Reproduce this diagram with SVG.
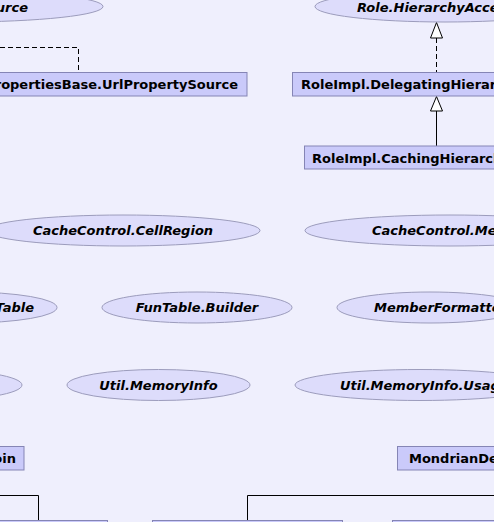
<svg xmlns="http://www.w3.org/2000/svg" width="494" height="522" viewBox="0 0 494 522">
<style>
.bg{fill:#efeffd}
.el{fill:#dddcfb;stroke:#9c9cbc;stroke-width:1}
.bx{fill:#cacafa;stroke:#8585b5;stroke-width:1}
.ti{font-family:"DejaVu Sans",sans-serif;font-size:13px;font-weight:bold;font-style:italic;fill:#000}
.tb{font-family:"DejaVu Sans",sans-serif;font-size:13px;font-weight:bold;fill:#000}
.ln{fill:none;stroke:#000;stroke-width:1}
.dl{fill:none;stroke:#000;stroke-width:1;stroke-dasharray:5,3}
.ah{fill:#fff;stroke:#000;stroke-width:1}
</style>
<rect class="bg" x="0" y="0" width="494" height="522"/>
<g id="connectors">
<path class="dl" d="M0,47.5 H78.5 V72"/>
<path class="dl" d="M436.5,38 V72"/>
<polygon class="ah" points="436.5,22.5 430.5,38 442.5,38"/>
<path class="ln" d="M436.5,111 V146"/>
<polygon class="ah" points="436.5,96.5 430.5,111 442.5,111"/>
<path class="ln" d="M0,495.5 H38.5 V520"/>
<path class="ln" d="M494,495.5 H247.5 V520"/>
</g>
<g id="n_propertysource"><ellipse class="el" cx="-40" cy="6.5" rx="143" ry="15.5"/><text class="ti" x="28" y="12" text-anchor="end">PropertySource</text></g>
<g id="n_urlpropertysource"><rect class="bx" x="-10" y="72.5" width="257" height="23.5"/><text class="tb" x="238" y="89" text-anchor="end">PropertiesBase.UrlPropertySource</text></g>
<g id="n_hierarchyaccess"><ellipse class="el" cx="445" cy="6.5" rx="130" ry="15.5"/><text class="ti" x="357" y="12">Role.HierarchyAccess</text></g>
<g id="n_delegating"><rect class="bx" x="292.5" y="72.5" width="260" height="23.5"/><text class="tb" x="301" y="89">RoleImpl.DelegatingHierarchyAccess</text></g>
<g id="n_caching"><rect class="bx" x="304.5" y="146" width="260" height="23"/><text class="tb" x="312" y="162.5">RoleImpl.CachingHierarchyManager</text></g>
<g id="n_cellregion"><ellipse class="el" cx="123" cy="230.5" rx="137" ry="15.5"/><text class="ti" x="123" y="235" text-anchor="middle">CacheControl.CellRegion</text></g>
<g id="n_memberregion"><ellipse class="el" cx="450" cy="230.5" rx="145" ry="15.5"/><text class="ti" x="372" y="235">CacheControl.MemberRegion</text></g>
<g id="n_funtable"><ellipse class="el" cx="-33" cy="307.5" rx="90" ry="15.5"/><text class="ti" x="34" y="312" text-anchor="end">FunTable</text></g>
<g id="n_funtablebuilder"><ellipse class="el" cx="197" cy="307.5" rx="95" ry="15.5"/><text class="ti" x="197" y="312" text-anchor="middle">FunTable.Builder</text></g>
<g id="n_memberformatter"><ellipse class="el" cx="430" cy="307.5" rx="93" ry="15.5"/><text class="ti" x="374" y="312">MemberFormatter</text></g>
<g id="n_leftellipse"><ellipse class="el" cx="-70" cy="385" rx="92" ry="15.5"/></g>
<g id="n_memoryinfo"><ellipse class="el" cx="158.5" cy="385" rx="91.5" ry="15.5"/><text class="ti" x="158.5" y="389.5" text-anchor="middle">Util.MemoryInfo</text></g>
<g id="n_memoryusage"><ellipse class="el" cx="420" cy="385" rx="125" ry="15.5"/><text class="ti" x="340" y="389.5">Util.MemoryInfo.Usage</text></g>
<g id="n_join"><rect class="bx" x="-20" y="446.5" width="44" height="23.5"/><text class="tb" x="16" y="463" text-anchor="end">Join</text></g>
<g id="n_mondriandef"><rect class="bx" x="397.5" y="446.5" width="120" height="23.5"/><text class="tb" x="409" y="463">MondrianDef</text></g>
<g id="n_bottom1"><rect class="bx" x="-10" y="520.5" width="117.5" height="24"/></g>
<g id="n_bottom2"><rect class="bx" x="152.5" y="520.5" width="190" height="24"/></g>
<g id="n_bottom3"><rect class="bx" x="392.5" y="520.5" width="120" height="24"/></g>
</svg>
